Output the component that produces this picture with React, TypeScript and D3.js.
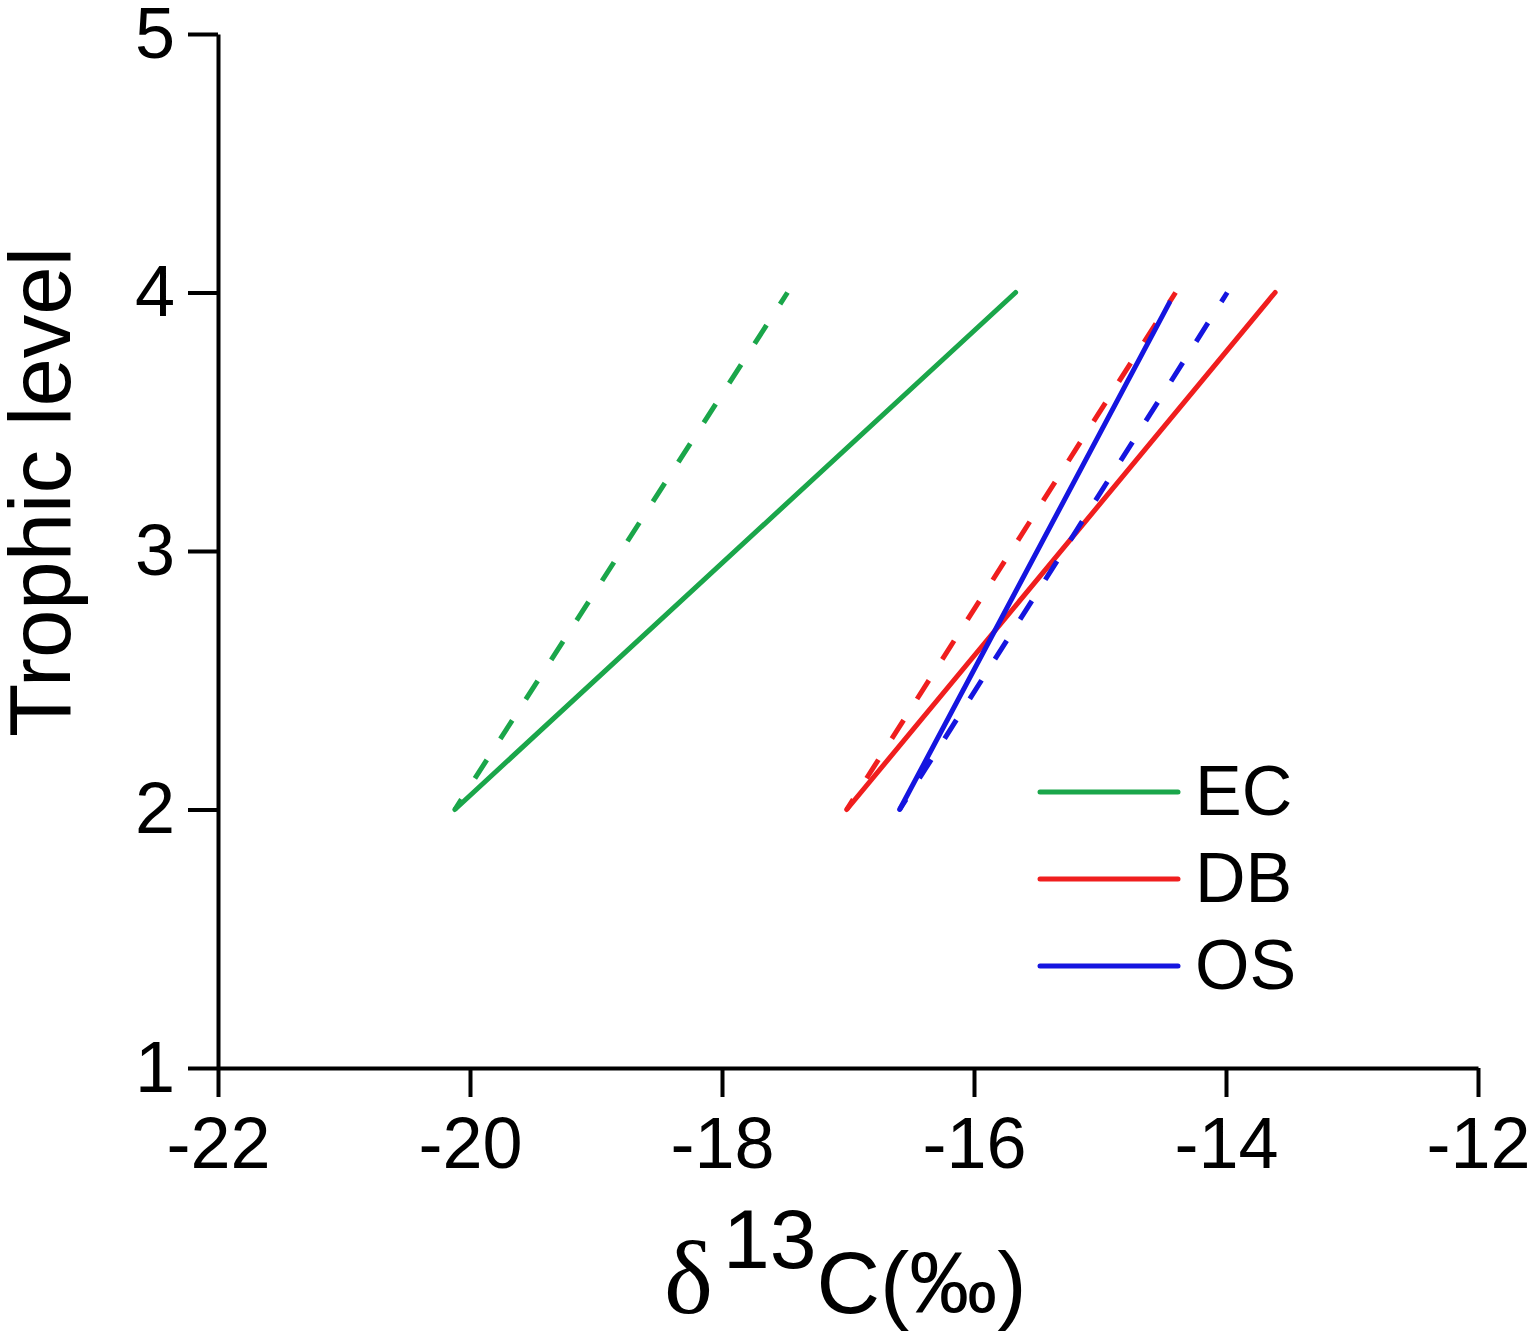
import React, { useRef, useEffect } from 'react';
import * as d3 from 'd3';

// 各区域回归线：营养级 2 → 4 对应的 δ13C
const groups = ['EC', 'DB', 'OS'];
const groupColors = ['#1AA64A', '#F01E1E', '#1515E0'];
const trophicStart = [2, 2, 2];
const solidStartC = [-20.12, -17.01, -16.59];
const solidEndC = [-15.67, -13.61, -14.45];
const solidEndTL = [4, 4, 3.96];
const dashedStartC = [-20.12, -17.01, -16.59];
const dashedEndC = [-17.48, -14.4, -13.99];
const dashedEndTL = [4, 4, 4];

const xTicks = [-22, -20, -18, -16, -14, -12];
const yTicks = [1, 2, 3, 4, 5];

export default function App() {
  const svgRef = useRef<SVGSVGElement>(null);

  useEffect(() => {
    if (!svgRef.current) return;
    const svg = d3.select(svgRef.current);
    svg.selectAll('*').remove();

    const font = 'Liberation Sans, Arial, sans-serif';
    const x = d3.scaleLinear().domain([-22, -12]).range([218, 1478]);
    const y = d3.scaleLinear().domain([1, 5]).range([1068, 34]);

    // 坐标轴
    const xAxis = d3.axisBottom(x).tickValues(xTicks).tickSize(29).tickSizeOuter(0).tickPadding(20).tickFormat(d3.format('d'));
    const yAxis = d3.axisLeft(y).tickValues(yTicks).tickSize(30).tickSizeOuter(0).tickPadding(13).tickFormat(d3.format('d'));

    const gx = svg.append('g').attr('transform', `translate(0,${y(1)})`).call(xAxis);
    const gy = svg.append('g').attr('transform', `translate(${x(-22)},0)`).call(yAxis);
    [gx, gy].forEach(g => {
      g.selectAll('path, line').attr('stroke', '#000').attr('stroke-width', 4);
      g.selectAll('text').attr('fill', '#000').style('font-family', font).style('font-size', '72px');
    });
    gx.selectAll('text').text((d: any) => String(d).replace('−', '-'));

    const lineGen = d3.line<[number, number]>().x(d => x(d[0])).y(d => y(d[1]));

    // 先画虚线再画实线（EC、DB、OS 依次叠加）
    groups.forEach((g, i) => {
      svg.append('path')
        .datum([[dashedStartC[i], trophicStart[i]], [dashedEndC[i], dashedEndTL[i]]] as [number, number][])
        .attr('d', lineGen)
        .attr('fill', 'none')
        .attr('stroke', groupColors[i])
        .attr('stroke-width', 5)
        .attr('stroke-dasharray', '22 25')
        .attr('stroke-dashoffset', 10);
      svg.append('path')
        .datum([[solidStartC[i], trophicStart[i]], [solidEndC[i], solidEndTL[i]]] as [number, number][])
        .attr('d', lineGen)
        .attr('fill', 'none')
        .attr('stroke', groupColors[i])
        .attr('stroke-width', 5)
        .attr('stroke-linecap', 'round');
    });

    // 图例
    const legend = svg.append('g');
    groups.forEach((g, i) => {
      const ly = 792 + i * 87;
      legend.append('line')
        .attr('x1', 1040).attr('x2', 1178)
        .attr('y1', ly).attr('y2', ly)
        .attr('stroke', groupColors[i])
        .attr('stroke-width', 5)
        .attr('stroke-linecap', 'round');
      legend.append('text')
        .attr('x', 1195).attr('y', ly + 23)
        .style('font-family', font).style('font-size', '70px')
        .text(g);
    });

    // 轴标题
    svg.append('text')
      .attr('transform', 'translate(70,492) rotate(-90)')
      .attr('text-anchor', 'middle')
      .style('font-family', font).style('font-size', '87px')
      .text('Trophic level');

    const xl = svg.append('text').attr('x', 664).attr('y', 1313).style('font-family', font);
    xl.append('tspan')
      .style('font-family', '"Liberation Serif", "DejaVu Serif", serif')
      .style('font-size', '104px')
      .text('δ');
    xl.append('tspan').attr('dx', 10).attr('dy', -45).style('font-size', '84px').text('13');
    xl.append('tspan').attr('dy', 45).style('font-size', '88px').text('C(‰)');
  }, []);

  return (
    <div style={{ position: 'absolute', left: 0, top: 0, width: 1530, height: 1337, background: '#fff' }}>
      <svg ref={svgRef} width={1530} height={1337} />
    </div>
  );
}
